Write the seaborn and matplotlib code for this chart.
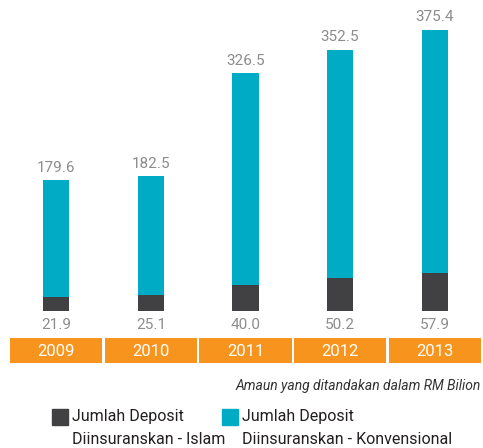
import matplotlib
matplotlib.use("Agg")
import matplotlib.pyplot as plt
import matplotlib.patches as mpatches
import pandas as pd
import seaborn as sns

years = ["2009", "2010", "2011", "2012", "2013"]
islam = [21.9, 25.1, 40.0, 50.2, 57.9]
konvensional = [179.6, 182.5, 326.5, 352.5, 375.4]

df = pd.DataFrame({"Tahun": years, "Islam": islam, "Konvensional": konvensional})
df["Jumlah"] = df["Islam"] + df["Konvensional"]

sns.set_theme(style="white")
plt.rcParams["font.family"] = ["Roboto", "DejaVu Sans"]

teal = "#00abc5"
dark = "#414042"
orange = "#f7941d"
grey = "#8c8c8c"

W, H = 483, 448
fig = plt.figure(figsize=(W / 100, H / 100), dpi=100)

# main bar axes: x from 9 to 482 px, y from 10 to 311 px
ax = fig.add_axes([9 / W, 1 - 311 / H, 473 / W, 301 / H])
sns.barplot(data=df, x="Tahun", y="Jumlah", color=teal, width=0.275,
            saturation=1, linewidth=0, ax=ax)
sns.barplot(data=df, x="Tahun", y="Islam", color=dark, width=0.275,
            saturation=1, linewidth=0, ax=ax)
ax.set_xlim(-0.5, 4.5)
ax.set_ylim(0, 464)
ax.axis("off")

for i, row in df.iterrows():
    ax.annotate(f"{row['Konvensional']:.1f}", (i, row["Jumlah"]),
                xytext=(0, 4), textcoords="offset points", ha="center",
                va="bottom", fontsize=11, color=grey)
    ax.annotate(f"{row['Islam']:.1f}", (i, 0), xytext=(0, -5),
                textcoords="offset points", ha="center", va="top",
                fontsize=11, color=grey)

# orange year band
axb = fig.add_axes([9 / W, 1 - 363 / H, 473 / W, 25 / H])
axb.bar(range(len(years)), [1] * len(years), width=0.975, color=orange,
        linewidth=0)
axb.set_xlim(-0.5, 4.5)
axb.set_ylim(0, 1)
axb.axis("off")
for i, y in enumerate(years):
    axb.text(i, 0.47, y, ha="center", va="center", color="white", fontsize=12)

fig.text(481 / W, 1 - 386 / H, "Amaun yang ditandakan dalam RM Bilion",
         ha="right", va="center", fontsize=10, style="italic", color="#333333")

# legend drawn by hand so the swatch sits on the first text line
legend_items = [(dark, "Jumlah Deposit\nDiinsuranskan - Islam", 52),
                (teal, "Jumlah Deposit\nDiinsuranskan - Konvensional", 222)]
for color, label, x0 in legend_items:
    fig.patches.append(mpatches.Rectangle((x0 / W, 1 - 425 / H), 16 / W, 16 / H,
                                          transform=fig.transFigure,
                                          color=color, figure=fig))
    fig.text((x0 + 20) / W, 1 - 409 / H, label, ha="left", va="top",
             fontsize=11.5, color="#231f20", linespacing=1.65)

fig.savefig("out.png", dpi=100)
